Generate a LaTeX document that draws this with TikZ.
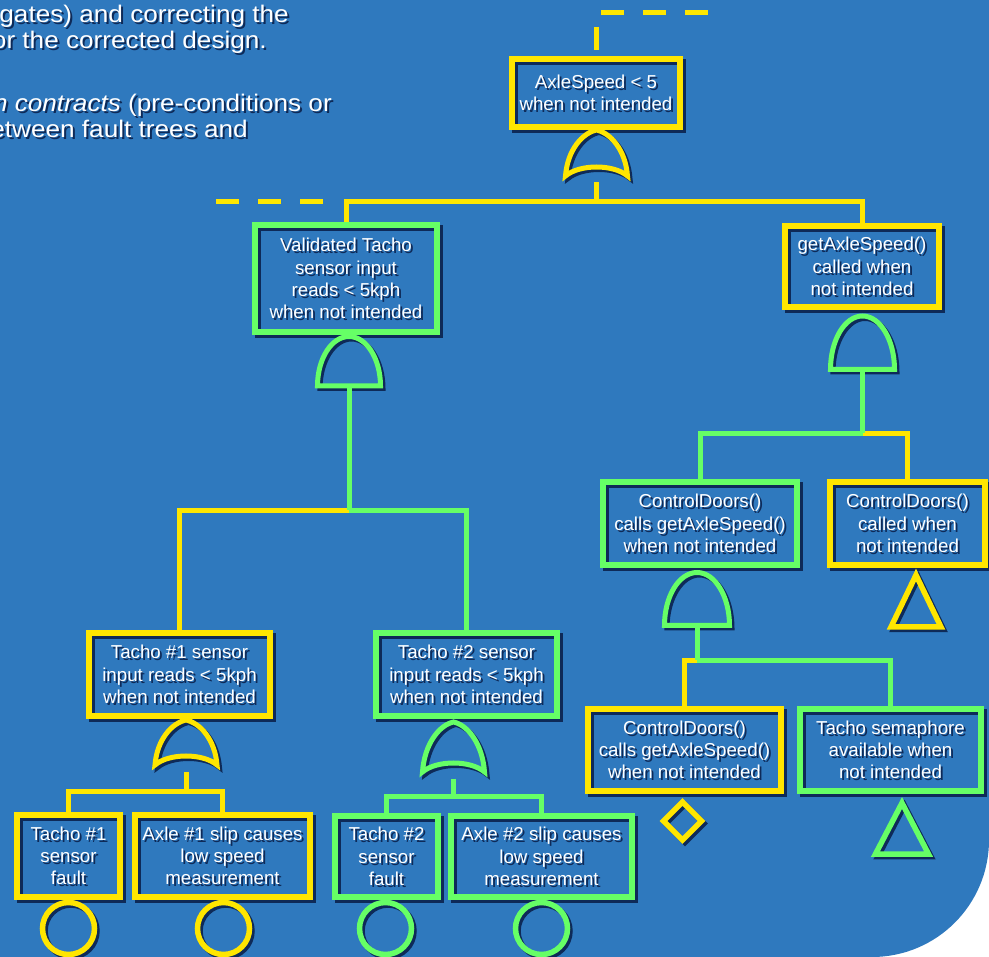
\documentclass[tikz,border=0pt]{standalone}
\usepackage{fontspec}
\usepackage{graphicx}
\setmainfont{Liberation Sans}
\usetikzlibrary{calc}
\definecolor{bg}{RGB}{47,121,190}
\definecolor{ylw}{RGB}{255,230,0}
\definecolor{grn}{RGB}{102,255,102}
\definecolor{shc}{RGB}{14,42,88}
\tikzset{
  boxtext/.style={align=center, font=\fontsize{18.7pt}{22.3pt}\selectfont, inner sep=0pt},
  ylc/.style={draw=ylw, line width=5pt},
  grc/.style={draw=grn, line width=5pt},
  shp/.style={line width=5.5pt},
  gshp/.style={line width=5pt},
  dashc/.style={draw=ylw, line width=5pt, dash pattern=on 23pt off 19pt},
  para/.style={font=\fontsize{24pt}{27pt}\selectfont, inner sep=0pt, anchor=base east},
}
\newcommand\evbox[7]{%
  \node[draw=shc, line width=5.5pt, minimum width=#5pt, minimum height=#6pt, inner sep=0pt] at ([shift={(3,3)}]#3,#4) {};
  \node[boxtext, text=shc] at ([shift={(2,2)}]#3,#4) {#7};
  \node[boxtext, text=white, draw=#2, line width=5.5pt, minimum width=#5pt, minimum height=#6pt] (#1) at (#3,#4) {#7};
}
\newcommand\orgate[5]{%
  \begin{scope}[shift={(#3,#4)}]
    \draw[gshp, shc, shift={(2.5,2.5)}] (0,0) .. controls (14,3) and (29,{0.43*#5}) .. (31,#5) .. controls (17,{#5-12}) and (-17,{#5-12}) .. (-31,#5) .. controls (-29,{0.43*#5}) and (-14,3) .. cycle;
    \draw[gshp, #2] (0,0) .. controls (14,3) and (29,{0.43*#5}) .. (31,#5) .. controls (17,{#5-12}) and (-17,{#5-12}) .. (-31,#5) .. controls (-29,{0.43*#5}) and (-14,3) .. cycle;
    \coordinate (#1-out) at (0,{#5+6.5});
  \end{scope}}
\newcommand\andgate[6]{%
  \begin{scope}[shift={(#3,#4)}]
    \draw[gshp, shc, shift={(2.5,2.5)}] (-#5,0) arc[start angle=180, end angle=0, x radius=#5pt, y radius=#6pt] -- cycle;
    \draw[gshp, #2] (-#5,0) arc[start angle=180, end angle=0, x radius=#5pt, y radius=#6pt] -- cycle;
    \coordinate (#1-out) at (0,0);
  \end{scope}}
\newcommand\shdraw[2]{\draw[shp, shc, shift={(2.5,2.5)}] #2; \draw[shp, #1] #2;}
\begin{document}
\begin{tikzpicture}[x=1pt, y=-1pt]
\useasboundingbox (0,0) rectangle (989,957);
\clip (0,0) rectangle (989,957);
\fill[white] (0,0) rectangle (989,957);
\fill[bg] (0,0) -- (989,0) -- (989,840) arc[start angle=0, end angle=-90, radius=117pt] -- (0,957) -- cycle;

% paragraph text (cut off)
\node[para, text=shc] at (291,24.7) {\scalebox{1.09}[1]{gates) and correcting the}};
\node[para, text=white] (p1) at (289,22.7) {\scalebox{1.09}[1]{gates) and correcting the}};
\node[para, text=shc] at (269,51) {\scalebox{1.09}[1]{or the corrected design.}};
\node[para, text=white] (p2) at (267,49) {\scalebox{1.09}[1]{or the corrected design.}};
\node[para, text=shc] at (334,114) {\scalebox{1.09}[1]{\textit{n contracts} (pre-conditions or}};
\node[para, text=white] (p3) at (332,112) {\scalebox{1.09}[1]{\textit{n contracts} (pre-conditions or}};
\node[para, text=shc] at (250,140) {\scalebox{1.09}[1]{etween fault trees and}};
\node[para, text=white] (p4) at (248,138) {\scalebox{1.09}[1]{etween fault trees and}};

% boxes
\evbox{top}{ylw}{596}{93}{168}{68}{AxleSpeed < 5\\when not intended}
\evbox{val}{grn}{346}{278.5}{182}{107}{Validated Tacho\\sensor input\\reads < 5kph\\when not intended}
\evbox{gas}{ylw}{862}{266.5}{154}{81}{getAxleSpeed()\\called when\\not intended}
\evbox{cdg}{grn}{700}{523.5}{194}{83}{ControlDoors()\\calls getAxleSpeed()\\when not intended}
\evbox{cdy}{ylw}{907.5}{523.5}{155}{83}{ControlDoors()\\called when\\not intended}
\evbox{t1}{ylw}{179.5}{674.5}{181}{83}{Tacho \#1 sensor\\input reads < 5kph\\when not intended}
\evbox{t2}{grn}{466.5}{674.5}{181}{83}{Tacho \#2 sensor\\input reads < 5kph\\when not intended}
\evbox{f1}{ylw}{68.5}{856}{103}{82}{Tacho \#1\\sensor\\fault}
\evbox{a1}{ylw}{222.5}{856}{175}{82}{Axle \#1 slip causes\\low speed\\measurement}
\evbox{f2}{grn}{386.5}{856.5}{103}{81}{Tacho \#2\\sensor\\fault}
\evbox{a2}{grn}{541.5}{856.5}{181}{81}{Axle \#2 slip causes\\low speed\\measurement}
\evbox{cdb}{ylw}{684.5}{750}{193}{82}{ControlDoors()\\calls getAxleSpeed()\\when not intended}
\evbox{ts}{grn}{890.5}{750}{181}{82}{Tacho semaphore\\available when\\not intended}

% gates
\orgate{topor}{ylw}{596.5}{130}{46}
\andgate{vand}{grn}{349}{386}{31.5}{49.5}
\andgate{gand}{grn}{862.5}{369.5}{32}{53.5}
\andgate{cand}{grn}{697}{625.5}{32.5}{53}
\orgate{t1or}{ylw}{186}{720}{45}
\orgate{t2or}{grn}{453.5}{722}{50}

% dashed continuations
\coordinate (dt1) at (596,13);
\coordinate (dt2) at (708,13);
\draw[dashc, dash phase=35.75pt] (top.north) -- (dt1) -- (dt2);
\coordinate (dl1) at (342,202);
\coordinate (dl2) at (216,202);
\draw[dashc, dash phase=23pt] (dl1) -- (dl2);

% connectors
\coordinate (j1) at (596.5,202);
\draw[ylc] (val.north) |- (j1) -| (gas.north);
\draw[ylc] (topor-out) -- (j1);

\coordinate (j2) at (349,510.5);
\draw[ylc] (j2) -| (t1.north);
\draw[grc] (j2) -| (t2.north);
\draw[grc] (vand-out) -- (j2);

\coordinate (j3) at (186,791);
\draw[ylc] (f1.north) |- (j3) -| (a1.north);
\draw[ylc] (t1or-out) -- (j3);

\coordinate (j4) at (453.5,796);
\draw[grc] (f2.north) |- (j4) -| (a2.north);
\draw[grc] (t2or-out) -- (j4);

\coordinate (j5) at (862.5,433.5);
\draw[ylc] (j5) -| (cdy.north);
\draw[grc] (j5) -| (cdg.north);
\draw[grc] (gand-out) -- (j5);

\coordinate (j6) at (697,660);
\draw[ylc] (j6) -| (cdb.north);
\draw[grc] (j6) -| (ts.north);
\draw[grc] (cand-out) -- (j6);

% undeveloped / basic / house events
\shdraw{ylw}{(916,575) -- (941,627) -- (891,627) -- cycle}
\shdraw{grn}{(902,803) -- (928.5,854) -- (875.5,854) -- cycle}
\shdraw{ylw}{(682.5,802) -- (701.5,821) -- (682.5,840) -- (663.5,821) -- cycle}
\shdraw{ylw}{(68.5,928.5) circle[radius=26pt]}
\shdraw{ylw}{(223.5,928.5) circle[radius=26pt]}
\shdraw{grn}{(385.5,928.5) circle[radius=26pt]}
\shdraw{grn}{(541.5,928.5) circle[radius=26pt]}
\end{tikzpicture}
\end{document}
